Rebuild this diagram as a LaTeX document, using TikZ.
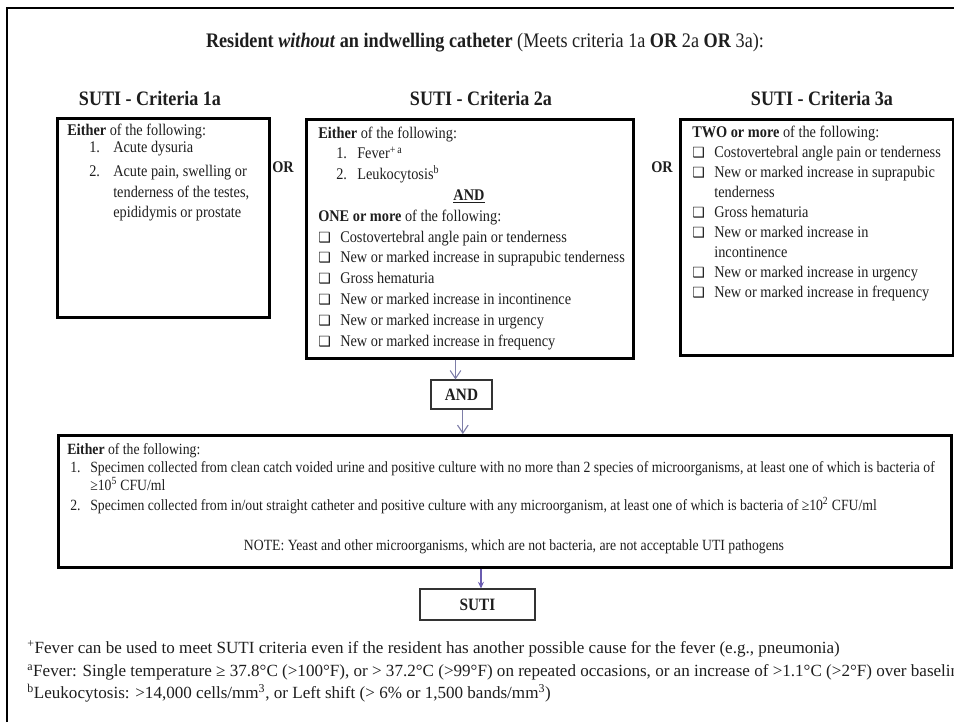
\documentclass[tikz,border=0pt]{standalone}
\usepackage{fontspec}
\setmainfont{Liberation Serif}
\newfontfamily\cond[FakeStretch=0.88]{Liberation Serif}
\newfontfamily\dejavu{DejaVu Sans}
\usetikzlibrary{arrows.meta,calc}
\definecolor{arrcol}{HTML}{7E7EA8}
\definecolor{arrcolb}{HTML}{6A5CB0}
\definecolor{txt}{HTML}{1E1E1E}
\newcommand\cbx{\makebox[16.5pt][l]{{\dejavu\fontsize{10.5}{10}\selectfont ❑}}}
\newcommand\numa[1]{\makebox[18pt][l]{#1}}
\newcommand\numb[1]{\makebox[15.75pt][l]{#1}}
\newcommand\numc[1]{\makebox[15pt][l]{#1}}
\begin{document}
\begin{tikzpicture}[x=0.75pt,y=-0.75pt,
  tx/.style={anchor=base west,inner sep=0pt,text=txt,font=\cond\fontsize{12.2}{14}\selectfont},
  txs/.style={anchor=base west,inner sep=0pt,text=txt,font=\cond\fontsize{11.7}{13}\selectfont},
  fn/.style={anchor=base west,inner sep=0pt,text=txt,font=\fontsize{12.8}{14}\selectfont},
  head/.style={anchor=base,inner sep=0pt,text=txt,font=\cond\bfseries\fontsize{15.4}{18}\selectfont},
  orl/.style={anchor=base,inner sep=0pt,text=txt,font=\cond\bfseries\fontsize{12.2}{14}\selectfont},
  bigbox/.style={draw=black,line width=2pt,anchor=north west,inner sep=0pt},
  smallbox/.style={draw=black!80,line width=0.8pt,inner sep=0pt,text=txt,font=\cond\bfseries\fontsize{13}{15}\selectfont},
  arr/.style={draw=arrcol,line width=0.8pt,-{Straight Barb[length=6pt,width=8pt]}},
  arrb/.style={draw=arrcolb,line width=1.2pt,-{Stealth[length=5pt,width=4.5pt]}}
]
\useasboundingbox (0,0) rectangle (954,722);
% outer frame
\draw[line width=1.6pt] (7,722) -- (7,8) -- (954,8);

% title
\node[anchor=base,inner sep=0pt,text=txt,font=\cond\fontsize{15.5}{18}\selectfont] (title) at (485,47)
  {\textbf{Resident \textit{without} an indwelling catheter} (Meets criteria 1a \textbf{OR} 2a \textbf{OR} 3a):};

% headers
\node[head] (h1) at (150,105) {SUTI - Criteria 1a};
\node[head] (h2) at (481,105) {SUTI - Criteria 2a};
\node[head] (h3) at (822,105) {SUTI - Criteria 3a};

% boxes
\node[bigbox,minimum width={212*0.75pt},minimum height={199*0.75pt}] (box1) at (56,117) {};
\node[bigbox,minimum width={327*0.75pt},minimum height={239*0.75pt}] (box2) at (305,118) {};
\node[bigbox,minimum width={273*0.75pt},minimum height={236*0.75pt}] (box3) at (679,118) {};
\node[bigbox,minimum width={893*0.75pt},minimum height={132*0.75pt}] (box4) at (57,434) {};
\node[smallbox,minimum width={61*0.75pt},minimum height={29*0.75pt}] (andbox) at (461.5,394.5) {AND};
\node[smallbox,minimum width={115*0.75pt},minimum height={31*0.75pt}] (suti) at (477.5,604.5) {SUTI};

% OR labels
\node[orl] (or1) at (283,172) {OR};
\node[orl] (or2) at (662,172) {OR};

% box 1 text
\node[tx] (b1a) at (67,135) {\textbf{Either} of the following:};
\node[tx] (b1b) at (89,152) {\numa{1.}Acute dysuria};
\node[tx] (b1c) at (89,176) {\numa{2.}Acute pain, swelling or};
\node[tx] (b1d) at (113,197) {tenderness of the testes,};
\node[tx] (b1e) at (113,217) {epididymis or prostate};

% box 2 text
\node[tx] (b2a) at (318,138) {\textbf{Either} of the following:};
\node[tx] (b2b) at (336,158.8) {\numb{1.}Fever\textsuperscript{+\,a}};
\node[tx] (b2c) at (336,179.6) {\numb{2.}Leukocytosis\textsuperscript{b}};
\node[tx,anchor=base] (b2d) at (469,200.4) {\textbf{\underline{AND}}};
\node[tx] (b2e) at (318,221.2) {\textbf{ONE or more} of the following:};
\node[tx] (b2f) at (318,242) {\cbx Costovertebral angle pain or tenderness};
\node[tx] (b2g) at (318,262.8) {\cbx New or marked increase in suprapubic tenderness};
\node[tx] (b2h) at (318,283.6) {\cbx Gross hematuria};
\node[tx] (b2i) at (318,304.4) {\cbx New or marked increase in incontinence};
\node[tx] (b2j) at (318,325.2) {\cbx New or marked increase in urgency};
\node[tx] (b2k) at (318,346) {\cbx New or marked increase in frequency};

% box 3 text
\node[tx] (b3a) at (692,137) {\textbf{TWO or more} of the following:};
\node[tx] (b3b) at (692,157) {\cbx Costovertebral angle pain or tenderness};
\node[tx] (b3c) at (692,177) {\cbx New or marked increase in suprapubic};
\node[tx] (b3d) at (714,197) {tenderness};
\node[tx] (b3e) at (692,217) {\cbx Gross hematuria};
\node[tx] (b3f) at (692,237) {\cbx New or marked increase in};
\node[tx] (b3g) at (714,257) {incontinence};
\node[tx] (b3h) at (692,277) {\cbx New or marked increase in urgency};
\node[tx] (b3i) at (692,297) {\cbx New or marked increase in frequency};

% box 4 text
\node[txs] (b4a) at (67,454) {\textbf{Either} of the following:};
\node[txs] (b4b) at (70,472) {\numc{1.}Specimen collected from clean catch voided urine and positive culture with no more than 2 species of microorganisms, at least one of which is bacteria of};
\node[txs] (b4c) at (90,490) {≥10\textsuperscript{5} CFU/ml};
\node[txs] (b4d) at (70,510) {\numc{2.}Specimen collected from in/out straight catheter and positive culture with any microorganism, at least one of which is bacteria of ≥10\textsuperscript{2} CFU/ml};
\node[txs,anchor=base] (b4e) at (514,550) {NOTE: Yeast and other microorganisms, which are not bacteria, are not acceptable UTI pathogens};

% connectors
\draw[arr] ([xshift=-4.5pt]andbox.north |- box2.south) -- ([xshift=-4.5pt]andbox.north);
\draw[arr] ([xshift=1pt]andbox.south) -- ([xshift=1pt]andbox.south |- box4.north);
\draw[arrb] ([xshift=2.6pt]suti.north |- box4.south) -- ([xshift=2.6pt]suti.north);

% footnotes
\node[fn] (f1) at (27,653) {\textsuperscript{+}Fever can be used to meet SUTI criteria even if the resident has another possible cause for the fever (e.g., pneumonia)};
\node[fn] (f2) at (27,676) {\textsuperscript{a}Fever: Single temperature ≥ 37.8°C (>100°F), or > 37.2°C (>99°F) on repeated occasions, or an increase of >1.1°C (>2°F) over baseline};
\node[fn] (f3) at (27,698) {\textsuperscript{b}Leukocytosis: >14,000 cells/mm\textsuperscript{3}, or Left shift (> 6\% or 1,500 bands/mm\textsuperscript{3})};
\end{tikzpicture}
\end{document}
